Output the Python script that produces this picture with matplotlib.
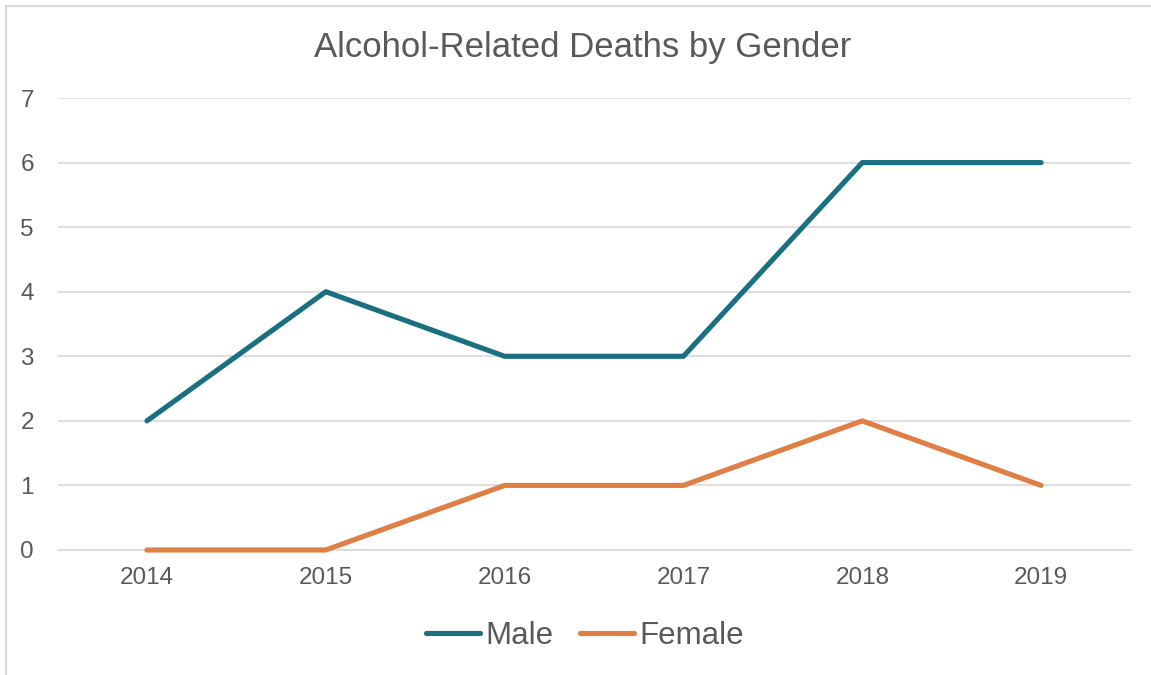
import matplotlib.pyplot as plt
from matplotlib.lines import Line2D

years = ['2014', '2015', '2016', '2017', '2018', '2019']
male = [2, 4, 3, 3, 6, 6]
female = [0, 0, 1, 1, 2, 1]

male_color = '#1A7080'
female_color = '#E07F45'
text_color = '#595959'
grid_color = '#D9D9D9'

plt.rcParams['font.family'] = ['Liberation Sans', 'DejaVu Sans']

fig = plt.figure(figsize=(11.51, 6.75), dpi=100)
ax = fig.add_axes([0.05, 0.1852, 0.9322, 0.6696])

x = range(len(years))
ax.plot(x, male, color=male_color, lw=3.7, solid_capstyle='round', solid_joinstyle='round',
        label='Male', clip_on=False, zorder=3)
ax.plot(x, female, color=female_color, lw=3.7, solid_capstyle='round', solid_joinstyle='round',
        label='Female', clip_on=False, zorder=3)

ax.set_xlim(-0.5, len(years) - 0.5)
ax.set_ylim(0, 7)
ax.set_yticks(range(0, 8))
ax.set_xticks(list(x))
ax.set_xticklabels(years)
ax.grid(axis='y', color=grid_color, lw=1.2)
ax.set_axisbelow(True)
for s in ['left', 'right', 'top']:
    ax.spines[s].set_visible(False)
ax.spines['bottom'].set_color(grid_color)
ax.spines['bottom'].set_linewidth(1.2)
ax.tick_params(axis='both', length=0, labelsize=17.5, labelcolor=text_color)
ax.tick_params(axis='y', pad=17)
ax.tick_params(axis='x', pad=12)

fig.text(0.506, 0.93, 'Alcohol-Related Deaths by Gender', ha='center', va='center',
         fontsize=25, color=text_color)

leg = ax.legend(loc='center', bbox_to_anchor=(0.508, 0.058), bbox_transform=fig.transFigure,
                ncol=2, frameon=False, fontsize=22.5, handlelength=1.75, handletextpad=0.15,
                columnspacing=0.85)
for t in leg.get_texts():
    t.set_color(text_color)
for h in leg.legend_handles:
    h.set_linewidth(3.7)
    h.set_solid_capstyle('round')

# chart frame (left and top edges visible)
fig.add_artist(Line2D([5.5 / 1151, 5.5 / 1151], [0, 1 - 5.5 / 675], transform=fig.transFigure,
                      color=grid_color, lw=1.5))
fig.add_artist(Line2D([5.5 / 1151, 1], [1 - 5.5 / 675, 1 - 5.5 / 675], transform=fig.transFigure,
                      color=grid_color, lw=1.5))

fig.savefig('out.png', dpi=100)
